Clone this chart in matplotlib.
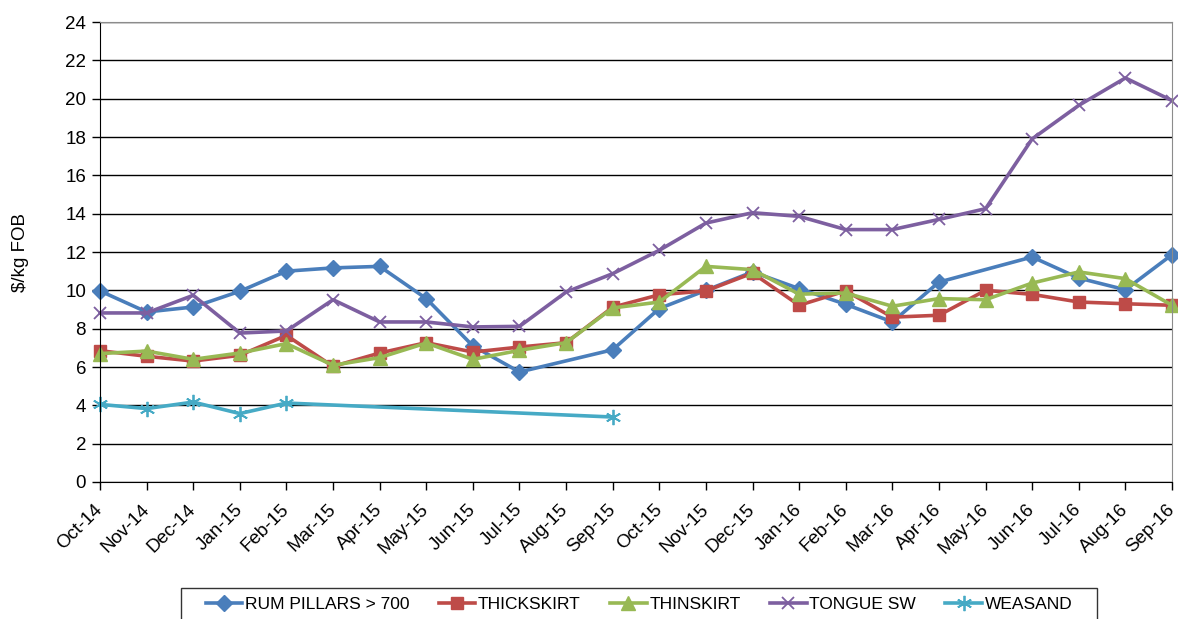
import numpy as np
import matplotlib
matplotlib.use("Agg")
import matplotlib.pyplot as plt
from matplotlib.patches import Rectangle

plt.rcParams['font.family'] = ['Liberation Sans', 'DejaVu Sans']

months = ['Oct-14', 'Nov-14', 'Dec-14', 'Jan-15', 'Feb-15', 'Mar-15', 'Apr-15', 'May-15',
          'Jun-15', 'Jul-15', 'Aug-15', 'Sep-15', 'Oct-15', 'Nov-15', 'Dec-15', 'Jan-16',
          'Feb-16', 'Mar-16', 'Apr-16', 'May-16', 'Jun-16', 'Jul-16', 'Aug-16', 'Sep-16']

nan = np.nan
rum_pillars = [9.97, 8.87, 9.13, 9.95, 11.0, 11.17, 11.25, 9.57, 7.1, 5.74, nan, 6.9,
               9.05, 10.0, 10.96, 10.09, 9.27, 8.35, 10.43, nan, 11.74, 10.64, 10.03, 11.86]
thickskirt = [6.85, 6.56, 6.31, 6.61, 7.65, 6.03, 6.73, 7.27, 6.78, 7.04, 7.27, 9.12,
              9.77, 9.97, 10.9, 9.22, 9.97, 8.6, 8.7, 10.0, 9.79, 9.39, 9.3, 9.22]
thinskirt = [6.7, 6.83, 6.4, 6.73, 7.22, 6.09, 6.49, 7.25, 6.4, 6.87, 7.27, 9.08,
             9.39, 11.25, 11.08, 9.8, 9.86, 9.17, 9.57, 9.51, 10.38, 10.96, 10.61, 9.22]
tongue_sw = [8.82, 8.82, 9.74, 7.77, 7.88, 9.51, 8.35, 8.35, 8.09, 8.12, 9.91, 10.87,
             12.09, 13.51, 14.05, 13.86, 13.17, 13.17, 13.7, 14.26, 17.9, 19.65, 21.08, 19.9]
weasand = [4.05, 3.83, 4.17, 3.57, 4.12, nan, nan, nan, nan, nan, nan, 3.39,
           nan, nan, nan, nan, nan, nan, nan, nan, nan, nan, nan, nan]

series = [
    ('RUM PILLARS > 700', rum_pillars, '#4A7EBB', 'D', 8.5),
    ('THICKSKIRT', thickskirt, '#BE4B48', 's', 9),
    ('THINSKIRT', thinskirt, '#98B954', '^', 10),
    ('TONGUE SW', tongue_sw, '#7D5FA0', 'x', 9),
    ('WEASAND', weasand, '#46AAC5', (6, 2, 0), 11),
]

W, H = 1178, 619
fig = plt.figure(figsize=(W / 100, H / 100), dpi=100)
ax = fig.add_axes([100 / W, 1 - 482 / H, 1072 / W, 460 / H])

x = np.arange(len(months))
for label, vals, color, marker, ms in series:
    v = np.array(vals, dtype=float)
    ok = ~np.isnan(v)  # gaps are bridged with a straight line
    mew = 1.3 if marker in ('x', (6, 2, 0)) else 1
    ax.plot(x[ok], v[ok], color=color, lw=2.6, marker=marker, markersize=ms,
            markeredgewidth=mew, markeredgecolor=color, label=label, clip_on=False)

ax.set_xlim(0, len(months) - 1)
ax.set_ylim(0, 24)
ax.set_yticks(range(0, 25, 2))
ax.set_xticks(x)
ax.set_xticklabels(months, rotation=45, ha='right', va='center',
                   rotation_mode='anchor', fontsize=13.5)
ax.tick_params(axis='y', labelsize=13.5, length=6, width=1, direction='out', pad=4)
ax.tick_params(axis='x', length=6, width=1, direction='out', pad=12)
ax.yaxis.grid(True, color='black', lw=1)
ax.set_axisbelow(True)
for s in ['top', 'right']:
    ax.spines[s].set_color('#8c8c8c')
ax.spines['left'].set_color('black')
ax.spines['bottom'].set_color('black')
ax.set_ylabel('\\$/kg FOB', fontsize=13.5)
ax.yaxis.set_label_coords(-71 / 1072, 0.5)

# legend box at the bottom (runs past the image edge like the original)
fig.patches.append(Rectangle((181 / W, -0.05), 916 / W, 0.05 + 1 - 588 / H,
                             transform=fig.transFigure, fill=False,
                             edgecolor='#333333', lw=1))
fig.legend(loc='center', bbox_to_anchor=(639 / W, 1 - 604 / H), ncol=5,
           fontsize=12.5, frameon=False, handlelength=2.1, columnspacing=1.7,
           borderpad=0, handletextpad=0.15)

fig.savefig('out.png', dpi=100)
